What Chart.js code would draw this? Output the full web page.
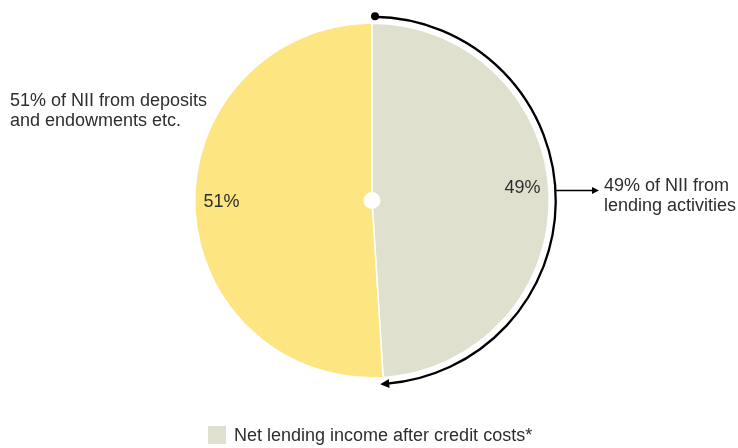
<!DOCTYPE html>
<html>
<head>
<meta charset="utf-8">
<script src="https://cdn.jsdelivr.net/npm/chart.js@4/dist/chart.umd.min.js"></script>
<style>
  html, body { margin: 0; padding: 0; background: #fff; }
  #wrap { width: 738px; height: 448px; }
</style>
</head>
<body>
<div id="wrap"><canvas id="nii"></canvas></div>
<script>
// data
const categories = ["Net lending income after credit costs*", "Deposits and endowments etc."];
const shares = [49, 51];
const sliceLabels = ["49%", "51%"];
const calloutLeft = ["51% of NII from deposits", "and endowments etc."];
const calloutRight = ["49% of NII from", "lending activities"];
const colors = ["#e0e0cf", "#fde582"];

const FONT = "18px 'Liberation Sans', Arial, sans-serif";
const INK = "#2e2e2e";

const annotate = {
  id: "annotate",
  afterDatasetsDraw(chart) {
    const ctx = chart.ctx;
    const arcs = chart.getDatasetMeta(0).data;
    const cx = arcs[0].x, cy = arcs[0].y, r = arcs[0].outerRadius;

    ctx.save();
    // white hub
    ctx.fillStyle = "#fff";
    ctx.beginPath();
    ctx.arc(cx, cy, 8.5, 0, Math.PI * 2);
    ctx.fill();

    // percentage labels inside slices
    ctx.font = FONT;
    ctx.fillStyle = INK;
    ctx.textAlign = "center";
    ctx.textBaseline = "middle";
    const nudge = [-8, -3];
    arcs.forEach((a, i) => {
      const mid = (a.startAngle + a.endAngle) / 2;
      ctx.fillText(sliceLabels[i], cx + Math.cos(mid) * r * 0.85, cy + Math.sin(mid) * r * 0.85 + nudge[i]);
    });

    // arc arrow around the lending slice
    const R = r + 6.5;
    const a0 = arcs[0].startAngle;
    const a1 = arcs[0].endAngle - 0.02;
    ctx.strokeStyle = "#000";
    ctx.lineWidth = 2.3;
    ctx.beginPath();
    ctx.arc(cx, cy, R, a0 + 0.01, a1);
    ctx.stroke();
    ctx.fillStyle = "#000";
    ctx.beginPath();
    ctx.arc(cx + Math.cos(a0) * R + 3, cy + Math.sin(a0) * R - 0.5, 4, 0, Math.PI * 2);
    ctx.fill();
    // arrowhead at the end, tangent direction
    const ex = cx + Math.cos(a1) * R, ey = cy + Math.sin(a1) * R;
    const tx = -Math.sin(a1), ty = Math.cos(a1);
    const nx = Math.cos(a1), ny = Math.sin(a1);
    ctx.beginPath();
    ctx.moveTo(ex + tx * 7, ey + ty * 7);
    ctx.lineTo(ex - tx * 2 + nx * 4.5, ey - ty * 2 + ny * 4.5);
    ctx.lineTo(ex - tx * 2 - nx * 4.5, ey - ty * 2 - ny * 4.5);
    ctx.closePath();
    ctx.fill();

    // straight arrow to right callout
    const ly = cy - 10;
    ctx.beginPath();
    ctx.moveTo(cx + R, ly);
    ctx.lineTo(593, ly);
    ctx.lineWidth = 1.5;
    ctx.stroke();
    ctx.beginPath();
    ctx.moveTo(599, ly);
    ctx.lineTo(592, ly - 3.5);
    ctx.lineTo(592, ly + 3.5);
    ctx.closePath();
    ctx.fill();

    // callouts
    ctx.fillStyle = INK;
    ctx.textAlign = "left";
    ctx.textBaseline = "middle";
    calloutLeft.forEach((t, i) => ctx.fillText(t, 10, 101 + i * 20));
    calloutRight.forEach((t, i) => ctx.fillText(t, 604, 186 + i * 20));

    // legend (lending only)
    ctx.fillStyle = colors[0];
    ctx.fillRect(208, 426, 18, 18);
    ctx.fillStyle = INK;
    ctx.fillText(categories[0], 234, 436);
    ctx.restore();
  }
};

new Chart(document.getElementById("nii"), {
  type: "pie",
  data: {
    labels: categories,
    datasets: [{
      data: shares,
      backgroundColor: colors,
      borderColor: "#fff",
      borderWidth: 1.5,
      hoverOffset: 0
    }]
  },
  options: {
    responsive: true,
    maintainAspectRatio: false,
    animation: false,
    layout: { padding: { top: 22, bottom: 69, left: 194, right: 188 } },
    plugins: {
      legend: { display: false },
      tooltip: { enabled: false }
    }
  },
  plugins: [annotate]
});
</script>
</body>
</html>
